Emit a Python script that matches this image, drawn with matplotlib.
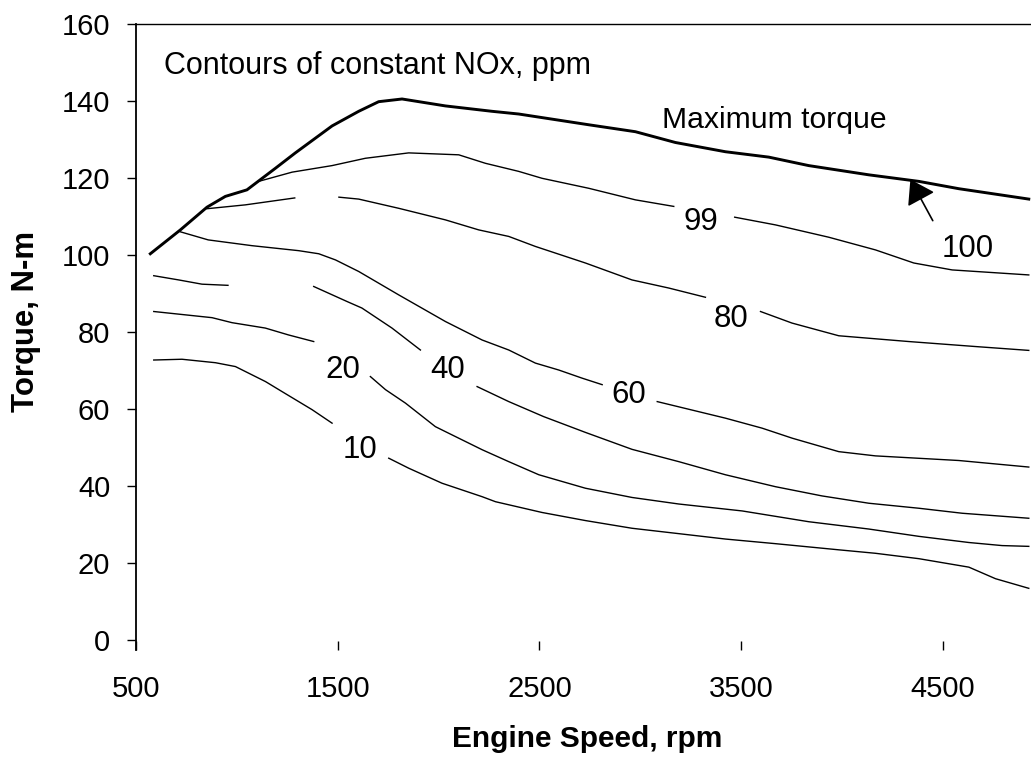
import numpy as np
import matplotlib
matplotlib.use("Agg")
import matplotlib.pyplot as plt

plt.rcParams['font.family'] = ['Liberation Sans', 'DejaVu Sans']

nan = np.nan

# Maximum torque curve (100 ppm)
max_x = [571, 720, 852, 943, 1050, 1191, 1290, 1472, 1604, 1703, 1819, 2034, 2265, 2397,
         2745, 2976, 3174, 3422, 3637, 3835, 4133, 4381, 4579, 4926]
max_y = [100.4, 106.6, 112.5, 115.3, 117.0, 122.6, 126.6, 133.6, 137.4, 139.9, 140.6, 138.8,
         137.4, 136.7, 133.9, 132.1, 129.3, 126.9, 125.5, 123.3, 120.9, 119.2, 117.3, 114.6]

# Contour lines (nan = gap in the line)
c99_x = [1108, 1274, 1472, 1637, 1852, 2100, 2232, 2397, 2513, 2745, 2976, 3166, nan,
         3468, 3670, 3934, 4166, 4356, 4546, 4926]
c99_y = [119.2, 121.6, 123.3, 125.2, 126.6, 126.1, 123.9, 121.8, 120.0, 117.4, 114.4, 112.7, nan,
         109.9, 107.9, 104.7, 101.4, 98.0, 96.2, 94.9]

c80_x = [852, 1042, 1287, nan, 1506, 1604, 1803, 2034, 2199, 2348, 2480, 2728, 2959, 3141, 3323, nan,
         3596, 3752, 3984, 4331, 4662, 4926]
c80_y = [112.1, 113.1, 114.9, nan, 115.1, 114.6, 112.2, 109.2, 106.6, 104.9, 102.3, 98.0, 93.6, 91.5, 89.1, nan,
         85.4, 82.4, 79.1, 77.6, 76.3, 75.3]

c60_x = [720, 858, 1075, 1307, 1406, 1489, 1604, 1803, 2034, 2216, 2348, 2480, 2596, 2711, 2811, nan,
         3084, 3422, 3604, 3753, 3984, 4166, 4579, 4926]
c60_y = [106.1, 104.0, 102.5, 101.2, 100.4, 98.8, 95.8, 89.7, 82.8, 78.0, 75.4, 72.0, 70.2, 68.1, 66.4, nan,
         62.0, 57.7, 55.1, 52.5, 49.0, 47.9, 46.7, 45.0]

c40_x = [588, 712, 827, 956, nan, 1381, 1546, 1620, 1769, 1910, nan,
         2191, 2348, 2521, 2728, 2959, 3191, 3422, 3670, 3901, 4133, 4381, 4596, 4926]
c40_y = [94.7, 93.6, 92.5, 92.2, nan, 91.9, 88.0, 86.3, 81.1, 75.4, nan,
         65.9, 62.0, 58.1, 54.0, 49.6, 46.4, 43.0, 39.9, 37.5, 35.6, 34.3, 33.0, 31.7]

c20_x = [588, 877, 976, 1141, 1257, 1381, nan,
         1662, 1737, 1836, 1984, 2034, 2216, 2348, 2497, 2728, 2959, 3191, 3505, 3835, 4133, 4381, 4629, 4794, 4926]
c20_y = [85.4, 83.8, 82.5, 81.1, 79.3, 77.6, nan,
         68.5, 65.1, 61.6, 55.5, 54.2, 49.5, 46.4, 43.0, 39.5, 37.1, 35.4, 33.6, 30.8, 28.9, 27.0, 25.4, 24.6, 24.4]

c10_x = [588, 728, 894, 993, 1142, 1224, 1373, 1472, nan,
         1753, 1852, 2017, 2216, 2282, 2348, 2513, 2728, 2959, 3191, 3422, 3670, 3984, 4166, 4381, 4629, 4761, 4926]
c10_y = [72.8, 73.0, 72.1, 71.1, 67.2, 64.6, 59.9, 56.4, nan,
         47.3, 44.7, 40.8, 37.3, 36.0, 35.2, 33.2, 31.1, 29.1, 27.7, 26.3, 25.1, 23.5, 22.6, 21.2, 19.0, 16.0, 13.5]

# Contour labels
lab_text = ["99", "100", "80", "60", "40", "20", "10"]
lab_x = [3300, 4624, 3449, 2943, 2045, 1525, 1609]
lab_y = [106.6, 99.6, 81.5, 61.6, 68.1, 68.1, 47.3]

x_ticks = [500, 1500, 2500, 3500, 4500]
y_ticks = [0, 20, 40, 60, 80, 100, 120, 140, 160]

fig = plt.figure(figsize=(10.31, 7.59), dpi=100)
ax = fig.add_axes([136 / 1031, 1 - 650 / 759, 1 - 136 / 1031, (650 - 24.3) / 759])

ax.plot(max_x, max_y, color='black', lw=2.1, solid_joinstyle='round')
for xs, ys in [(c99_x, c99_y), (c80_x, c80_y), (c60_x, c60_y),
               (c40_x, c40_y), (c20_x, c20_y), (c10_x, c10_y)]:
    ax.plot(xs, ys, color='black', lw=1.0)

for t, x, y in zip(lab_text, lab_x, lab_y):
    ax.text(x, y, t, fontsize=22.5, ha='center', va='baseline')

ax.text(637, 147.1, "Contours of constant NOx, ppm", fontsize=22, ha='left', va='baseline')
ax.text(3106, 133.0, "Maximum torque", fontsize=21.7, ha='left', va='baseline')

ax.annotate("", xy=(4339, 119.7), xytext=(4450, 109.0),
            arrowprops=dict(arrowstyle="-|>,head_length=1.45,head_width=0.95",
                            mutation_scale=10, color='black', lw=1.2,
                            shrinkA=0, shrinkB=0))

ax.set_xlim(500, 4937)
ax.set_ylim(-2.52, 160)
ax.set_xticks(x_ticks)
ax.set_yticks(y_ticks)
ax.tick_params(axis='x', direction='in', length=6.5, width=1.0, pad=18, labelsize=21)
ax.tick_params(axis='y', direction='out', length=6.5, width=1.0, pad=12, labelsize=21)

ax.spines['bottom'].set_visible(False)
ax.spines['right'].set_visible(False)
ax.spines['left'].set_linewidth(1.3)
ax.spines['top'].set_linewidth(1.0)

fig.text(587.5 / 1031, 1 - 746.7 / 759, "Engine Speed, rpm", fontsize=21.5,
         fontweight='bold', ha='center', va='baseline')
fig.text(26.4 / 1031, 1 - 321.5 / 759, "Torque, N-m", fontsize=22.4,
         fontweight='bold', ha='center', va='center', rotation=90)

fig.savefig("out.png", dpi=100)
